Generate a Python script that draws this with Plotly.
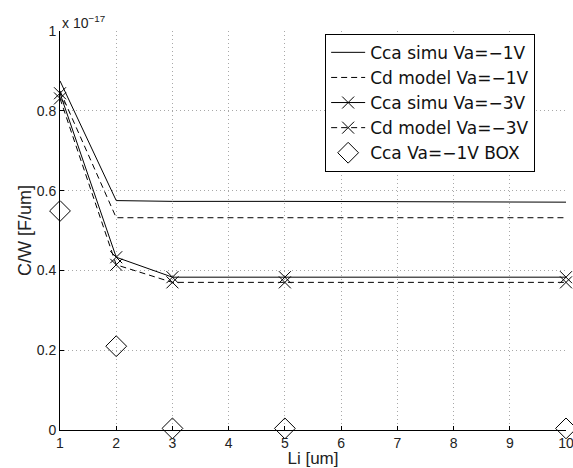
import plotly.graph_objects as go

# Capacitance per unit width vs. implant length Li (values in units of 1e-17 F/um)
li = [1, 2, 3, 5, 10]
cca_simu_1v = [0.875, 0.575, 0.573, 0.573, 0.571]
cd_model_1v = [0.850, 0.532, 0.532, 0.532, 0.532]
cca_simu_3v = [0.844, 0.433, 0.383, 0.383, 0.383]
cd_model_3v = [0.831, 0.414, 0.370, 0.370, 0.370]
cca_box_1v = [0.549, 0.210, 0.004, 0.004, 0.004]

x_ticks = [1, 2, 3, 4, 5, 6, 7, 8, 9, 10]
y_ticks = [0, 0.2, 0.4, 0.6, 0.8, 1]
y_tick_text = ["0", "0.2", "0.4", "0.6", "0.8", "1"]

FONT = "Liberation Sans"
LEGEND_FONT = "DejaVu Sans"
DASH = "6px,4px"
GRID = "#a8a8a8"

fig = go.Figure()
fig.add_trace(go.Scatter(x=li, y=cca_simu_1v, mode="lines", name="Cca simu Va=\u22121V",
                         line=dict(color="black", width=1)))
fig.add_trace(go.Scatter(x=li, y=cd_model_1v, mode="lines", name="Cd model Va=\u22121V",
                         line=dict(color="black", width=1, dash=DASH)))
fig.add_trace(go.Scatter(x=li, y=cca_simu_3v, mode="lines+markers", name="Cca simu Va=\u22123V",
                         line=dict(color="black", width=1),
                         marker=dict(symbol="x-thin-open", size=12, color="black",
                                     line=dict(color="black", width=1)),
                         cliponaxis=False))
fig.add_trace(go.Scatter(x=li, y=cd_model_3v, mode="lines+markers", name="Cd model Va=\u22123V",
                         line=dict(color="black", width=1, dash=DASH),
                         marker=dict(symbol="x-thin-open", size=12, color="black",
                                     line=dict(color="black", width=1)),
                         cliponaxis=False))
fig.add_trace(go.Scatter(x=li, y=cca_box_1v, mode="markers", name="Cca Va=\u22121V BOX",
                         marker=dict(symbol="diamond-open", size=16, color="black",
                                     line=dict(color="black", width=1)),
                         cliponaxis=False))

fig.update_layout(
    width=573, height=468,
    margin=dict(l=60, r=7, t=31, b=38),
    paper_bgcolor="white", plot_bgcolor="white",
    font=dict(family=FONT, size=13, color="#222"),
    showlegend=True,
    legend=dict(x=0.524, y=0.993, xanchor="left", yanchor="top",
                bgcolor="white", bordercolor="black", borderwidth=1,
                font=dict(family=LEGEND_FONT, size=17, color="#111"),
                itemwidth=34, tracegroupgap=0),
    xaxis=dict(range=[1, 10], tickvals=x_ticks, ticks="inside", ticklen=4,
               tickcolor="black", showline=True, linecolor="black", linewidth=1,
               showgrid=True, gridcolor=GRID, griddash="1px,3px", gridwidth=1,
               zeroline=False, tickfont=dict(size=14), ticklabeloverflow="allow",
               automargin=False,
               title=dict(text="Li [um]", font=dict(size=17), standoff=0)),
    yaxis=dict(range=[0, 1], tickvals=y_ticks, ticktext=y_tick_text, ticks="inside",
               ticklen=4, tickcolor="black", showline=True, linecolor="black",
               linewidth=1, showgrid=True, gridcolor=GRID, griddash="1px,3px",
               gridwidth=1, zeroline=False, tickfont=dict(size=14), automargin=False,
               title=dict(text="C/W [F/um]", font=dict(size=18), standoff=0)),
)

fig.add_annotation(x=0, y=1, xref="paper", yref="paper", xanchor="left", yanchor="bottom",
                   text="x 10<sup>\u221217</sup>", showarrow=False, yshift=-2,
                   font=dict(family=FONT, size=14, color="#222"))

fig.write_html("out.html")
